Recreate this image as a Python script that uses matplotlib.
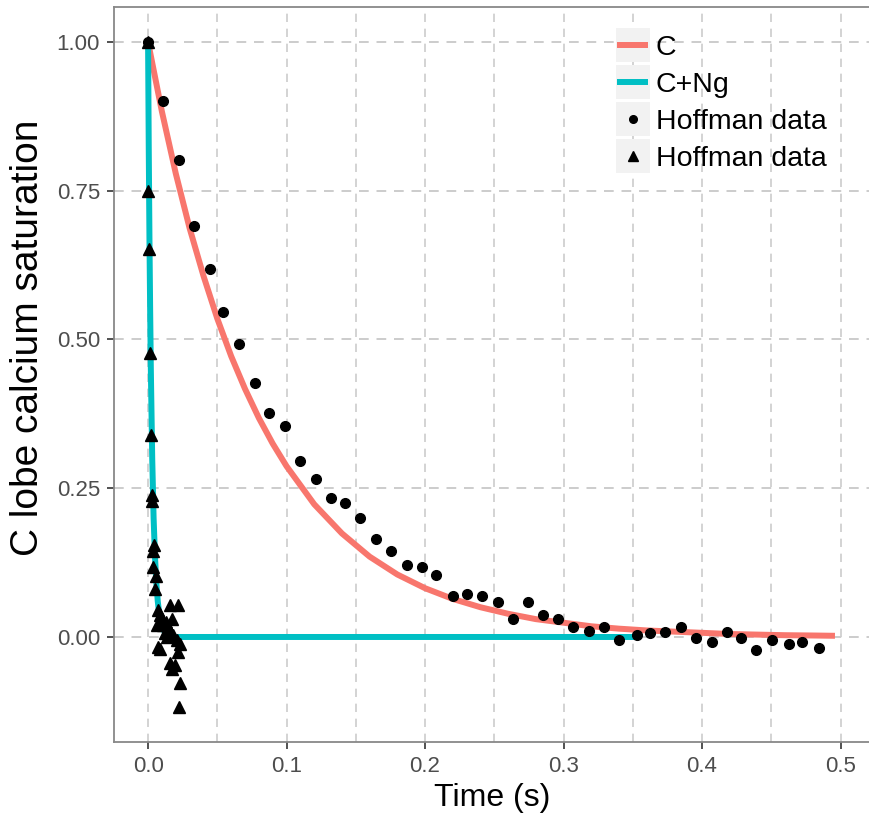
import numpy as np
import matplotlib
matplotlib.use("Agg")
import matplotlib.pyplot as plt
from matplotlib.patches import Rectangle
from matplotlib.lines import Line2D
from matplotlib.legend_handler import HandlerBase

plt.rcParams["font.family"] = ["Liberation Sans", "DejaVu Sans"]

# Model curve, C lobe alone
c_time = [0.0, 0.01, 0.02, 0.03, 0.04, 0.05, 0.06, 0.07, 0.08, 0.09, 0.10,
          0.12, 0.14, 0.16, 0.18, 0.20, 0.22, 0.24, 0.26, 0.28, 0.30,
          0.32, 0.34, 0.36, 0.38, 0.40, 0.42, 0.44, 0.46, 0.48, 0.496]
c_value = [1.000, 0.883, 0.779, 0.687, 0.607, 0.535, 0.472, 0.417, 0.368,
           0.325, 0.287, 0.223, 0.174, 0.135, 0.105, 0.082, 0.064, 0.050,
           0.039, 0.030, 0.024, 0.018, 0.014, 0.011, 0.009, 0.007, 0.005,
           0.004, 0.003, 0.0025, 0.002]

# Model curve, C lobe with neurogranin
cng_time = [0.0, 0.0005, 0.001, 0.0015, 0.002, 0.003, 0.004, 0.005, 0.006,
            0.007, 0.008, 0.010, 0.012, 0.014, 0.017, 0.020, 0.025, 0.355]
cng_value = [1.0, 0.82, 0.67, 0.55, 0.45, 0.30, 0.20, 0.135, 0.09,
             0.06, 0.04, 0.018, 0.008, 0.004, 0.001, 0.0, 0.0, 0.0]

# Hoffman data (circles)
dot_time = [0.0, 0.0108, 0.0224, 0.0332, 0.0448, 0.0544, 0.0659, 0.0775,
            0.0874, 0.0987, 0.1097, 0.1211, 0.1319, 0.1425, 0.1531, 0.1646,
            0.1755, 0.1868, 0.1976, 0.208, 0.220, 0.2306, 0.2409, 0.2529,
            0.2638, 0.2741, 0.285, 0.2962, 0.307, 0.3186, 0.3295, 0.340,
            0.3528, 0.3625, 0.373, 0.3848, 0.3954, 0.407, 0.4178, 0.4284,
            0.439, 0.4508, 0.4625, 0.472, 0.4847]
dot_value = [1.0, 0.901, 0.801, 0.691, 0.619, 0.547, 0.492, 0.427,
             0.376, 0.355, 0.296, 0.265, 0.234, 0.225, 0.200, 0.165,
             0.145, 0.121, 0.117, 0.104, 0.069, 0.072, 0.069, 0.058,
             0.031, 0.058, 0.037, 0.030, 0.016, 0.010, 0.016, -0.005,
             0.003, 0.006, 0.009, 0.016, -0.001, -0.008, 0.009, -0.001,
             -0.022, -0.005, -0.012, -0.009, -0.019]

# Hoffman data (triangles)
tri_time = [0.0, 0.0003, 0.0008, 0.0013, 0.0022, 0.0027, 0.0030, 0.0046,
            0.0034, 0.0038, 0.0058, 0.0050, 0.0070, 0.0159, 0.0219, 0.0087,
            0.0170, 0.0063, 0.0110, 0.0147, 0.0123, 0.0180, 0.0207, 0.0230,
            0.0075, 0.0087, 0.0219, 0.0159, 0.0195, 0.0170, 0.0230, 0.0224,
            0.0100, 0.0130, 0.0140, 0.0160]
tri_value = [1.0, 0.75, 0.652, 0.478, 0.339, 0.238, 0.228, 0.155,
             0.145, 0.117, 0.103, 0.080, 0.045, 0.053, 0.053, 0.037,
             0.031, 0.020, 0.020, 0.017, 0.006, 0.003, -0.005, -0.011,
             -0.016, -0.021, -0.026, -0.043, -0.047, -0.054, -0.078, -0.118,
             0.030, 0.025, 0.000, 0.010]

x_ticks = [0.0, 0.1, 0.2, 0.3, 0.4, 0.5]
y_ticks = [0.0, 0.25, 0.5, 0.75, 1.0]
y_labels = ["0.00", "0.25", "0.50", "0.75", "1.00"]

RED = "#F8766D"
TEAL = "#00BFC4"


class KeyHandler(HandlerBase):
    """ ggplot-like legend key: grey square with the glyph on top. """
    def create_artists(self, legend, orig_handle, xdescent, ydescent,
                       width, height, fontsize, trans):
        box = Rectangle((-xdescent, -ydescent), width, height,
                        facecolor="#F2F2F2", edgecolor="none",
                        transform=trans)
        yc = -ydescent + height / 2.0
        if orig_handle.get_marker() in (None, "None", "", " "):
            glyph = Line2D([-xdescent + 1, -xdescent + width - 1], [yc, yc],
                           color=orig_handle.get_color(),
                           linewidth=orig_handle.get_linewidth(),
                           solid_capstyle="butt", transform=trans)
        else:
            ms = 5.5 if orig_handle.get_marker() == "o" else 6.5
            glyph = Line2D([-xdescent + width / 2.0], [yc], linestyle="none",
                           marker=orig_handle.get_marker(), color="black",
                           markersize=ms, transform=trans)
        return [box, glyph]


fig = plt.figure(figsize=(8.7, 8.15), dpi=100)
ax = fig.add_axes([114 / 870, 73 / 815, 756 / 870, 735 / 815])

# grid: vertical every 0.05, horizontal every 0.25
for xv in np.arange(0.0, 0.55, 0.05):
    ax.axvline(xv, color="#CCCCCC", linewidth=1.2, linestyle=(0, (5, 4)),
               zorder=0)
for yv in y_ticks:
    ax.axhline(yv, color="#CCCCCC", linewidth=1.4, linestyle=(0, (5, 4)),
               zorder=0)

h_c, = ax.plot(c_time, c_value, color=RED, linewidth=4.3, label="C",
               solid_capstyle="butt", zorder=2)
h_ng, = ax.plot(cng_time, cng_value, color=TEAL, linewidth=4.3,
                label="C+Ng", solid_capstyle="butt", zorder=3)
h_dot, = ax.plot(dot_time, dot_value, linestyle="none", marker="o",
                 markersize=7, color="black", label="Hoffman data",
                 zorder=4)
h_tri, = ax.plot(tri_time, tri_value, linestyle="none", marker="^",
                 markersize=8.5, color="black", label="Hoffman data",
                 zorder=4)

ax.set_xlim(-0.0246, 0.5213)
ax.set_ylim(-0.1765, 1.0588)
ax.set_xticks(x_ticks)
ax.set_xticklabels([f"{v:.1f}" for v in x_ticks])
ax.set_yticks(y_ticks)
ax.set_yticklabels(y_labels)
ax.tick_params(axis="both", direction="out", length=5, width=1.2,
               color="#333333", labelcolor="#4D4D4D", labelsize=16, pad=5)

for side in ("left", "bottom", "top"):
    ax.spines[side].set_color("#888888")
    ax.spines[side].set_linewidth(1.3)
ax.spines["right"].set_visible(False)

ax.set_xlabel("Time (s)", fontsize=23, color="black")
ax.xaxis.set_label_coords(0.5, -0.056)
ax.set_ylabel("C lobe calcium saturation", fontsize=28, color="black")
ax.yaxis.set_label_coords(-0.09, 0.55)

leg = ax.legend(handles=[h_c, h_ng, h_dot, h_tri],
                labels=["C", "C+Ng", "Hoffman data", "Hoffman data"],
                handler_map={Line2D: KeyHandler()},
                loc="upper left", bbox_to_anchor=(0.664, 0.971),
                frameon=False, fontsize=20.5, handlelength=1.19,
                handleheight=1.46, labelspacing=0.105, handletextpad=0.2,
                borderpad=0.0, borderaxespad=0.0)

fig.savefig("out.png", dpi=100)
